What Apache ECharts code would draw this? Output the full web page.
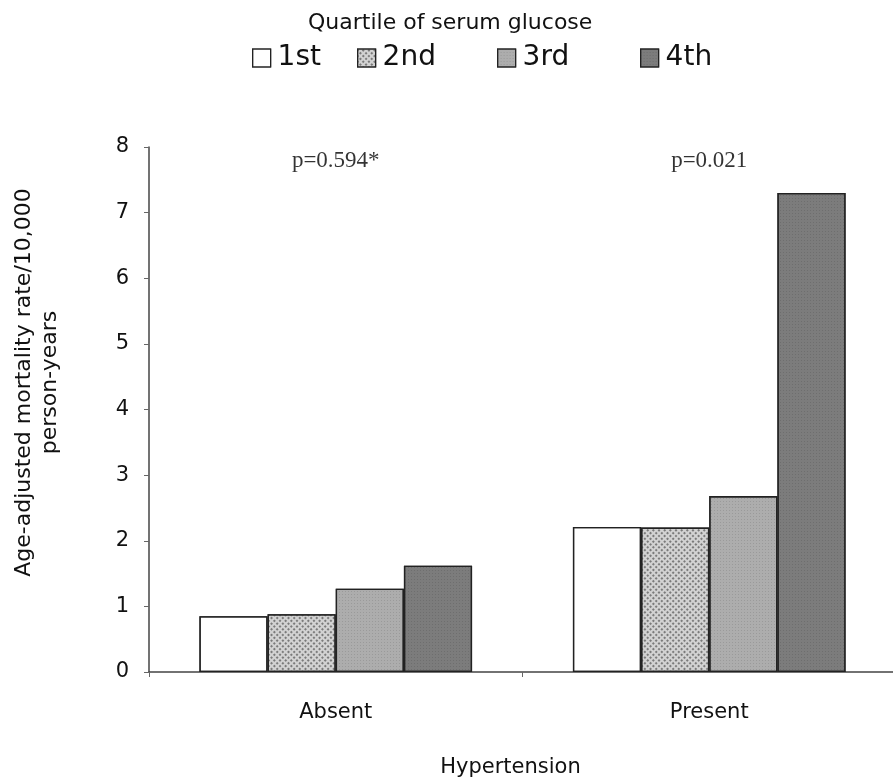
<!DOCTYPE html>
<html><head><meta charset="utf-8">
<script src="https://cdn.jsdelivr.net/npm/echarts@6/dist/echarts.min.js"></script>
<style>html,body{margin:0;padding:0;background:#fff}#c{width:893px;height:783px}</style>
</head><body><div id="c"></div>
<script>
const categories = ['Absent', 'Present'];
const quartiles = ['1st', '2nd', '3rd', '4th'];
const q1 = [0.85, 2.21];
const q2 = [0.88, 2.20];
const q3 = [1.27, 2.68];
const q4 = [1.62, 7.30];
const pValues = ['p=0.594*', 'p=0.021'];
const pValueY = [7.78, 7.78];
const yTicks = [0, 1, 2, 3, 4, 5, 6, 7, 8];

const sans = 'DejaVu Sans, Liberation Sans, sans-serif';
const fills = ['#ffffff', '#d2d2d2', '#adadad', '#7c7c7c'];
const decals = [
  {symbol: 'rect', symbolSize: 1, color: 'rgba(0,0,0,0)', dashArrayX: [[1, 1]], dashArrayY: [1, 1]},
  {symbol: 'rect', symbolSize: 1, color: 'rgba(50,50,50,0.55)', dashArrayX: [[1.5, 1.5]], dashArrayY: [1.5, 1.5], rotation: Math.PI / 4},
  {symbol: 'rect', symbolSize: 1, color: 'rgba(120,120,120,0.35)', dashArrayX: [[1, 1.5]], dashArrayY: [1, 1.5], rotation: 0},
  {symbol: 'rect', symbolSize: 1, color: 'rgba(90,90,90,0.4)', dashArrayX: [[1, 1.5]], dashArrayY: [1, 1.5], rotation: 0}
];
const values = [q1, q2, q3, q4];
const legendLeft = [252, 357, 497, 640];

const chart = echarts.init(document.getElementById('c'), null, {renderer: 'canvas'});
const series = quartiles.map((q, i) => ({
  name: q, type: 'bar', data: values[i],
  barGap: '0%', barCategoryGap: '27%',
  itemStyle: {color: fills[i], borderColor: '#222', borderWidth: 1.3, decal: decals[i]},
  emphasis: {disabled: true}
}));
series.push({
  type: 'scatter', name: 'pvals',
  data: categories.map((c, i) => [c, pValueY[i], pValues[i]]),
  symbolSize: 0,
  itemStyle: {color: '#000'},
  label: {show: true, position: 'inside', formatter: p => p.data[2],
    fontFamily: 'Liberation Serif, Times New Roman, serif', fontSize: 23, color: '#000'},
  silent: true
});

chart.setOption({
  animation: false,
  backgroundColor: '#fff',
  aria: {enabled: true, decal: {show: true}},
  title: {text: 'Quartile of serum glucose', left: 303, top: 7,
    textStyle: {fontFamily: sans, fontSize: 22, fontWeight: 'normal', color: '#111'}},
  legend: quartiles.map((q, i) => ({
    data: [q], left: legendLeft[i], top: 44, itemWidth: 18, itemHeight: 18, itemGap: 6,
    icon: 'rect', selectedMode: false, padding: 0,
    itemStyle: {borderColor: '#222', borderWidth: 1.2},
    textStyle: {fontFamily: sans, fontSize: 28, color: '#111', padding: [0, 0, 0, 2]}
  })),
  grid: {left: 149, top: 147, width: 747, bottom: 111, containLabel: false, outerBoundsMode: 'none'},
  xAxis: {
    type: 'category', data: categories,
    name: 'Hypertension', nameLocation: 'middle', nameGap: 85,
    nameTextStyle: {fontFamily: sans, fontSize: 21, color: '#111', padding: [0, 24, 0, 0]},
    axisLine: {lineStyle: {color: '#444', width: 1.5}},
    axisTick: {show: true, alignWithLabel: false, length: 5, lineStyle: {color: '#666'}},
    axisLabel: {fontFamily: sans, fontSize: 21, color: '#111', margin: 30}
  },
  yAxis: {
    type: 'value', min: 0, max: 8, interval: 1,
    name: 'Age-adjusted mortality rate/10,000\nperson-years',
    nameLocation: 'middle', nameGap: 86, nameRotate: 90,
    nameTextStyle: {fontFamily: sans, fontSize: 22, color: '#111', lineHeight: 26, padding: [0, 0, 0, 54]},
    axisLine: {show: true, lineStyle: {color: '#444', width: 1.5}},
    axisTick: {show: true, length: 5, lineStyle: {color: '#666'}},
    splitLine: {show: false},
    axisLabel: {fontFamily: sans, fontSize: 21, color: '#111', margin: 20,
      formatter: v => yTicks.includes(v) ? String(v) : ''}
  },
  series: series
});
</script></body></html>
